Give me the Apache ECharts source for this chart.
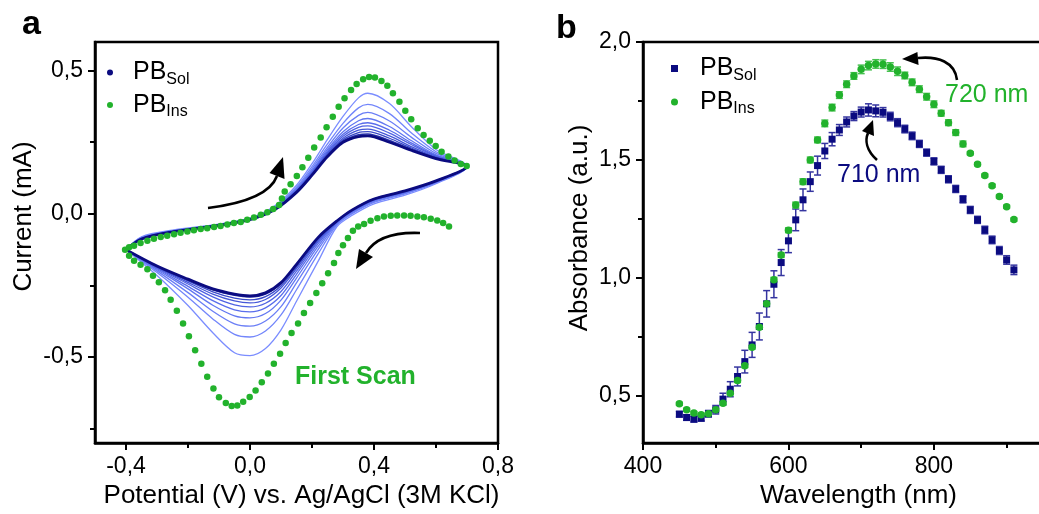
<!DOCTYPE html>
<html>
<head>
<meta charset="utf-8">
<script src="https://cdn.jsdelivr.net/npm/echarts@6/dist/echarts.min.js"></script>
<style>
html, body { margin: 0; padding: 0; background: #fff; }
#main { width: 1039px; height: 514px; }
</style>
</head>
<body>
<div id="main"></div>
<script>
// ---- panel a : cyclic voltammograms (potential in V, current in mA)
const potUp = [-0.4, -0.35, -0.25, -0.1, 0.0, 0.08, 0.15, 0.2, 0.25, 0.3, 0.35, 0.38, 0.45, 0.52, 0.6, 0.7];
const potDown = [0.7, 0.6, 0.5, 0.4, 0.33, 0.28, 0.22, 0.15, 0.1, 0.05, 0.0, -0.05, -0.12, -0.2, -0.3, -0.4];

// anodic branch of each cycle, outer (early) cycle first, last cycle (navy) at the end
const cvUp = [
  [-0.125, -0.080, -0.057, -0.036, -0.015, 0.028, 0.100, 0.175, 0.260, 0.340, 0.405, 0.421, 0.385, 0.305, 0.225, 0.165],
  [-0.125, -0.082, -0.059, -0.037, -0.016, 0.025, 0.093, 0.165, 0.244, 0.316, 0.370, 0.382, 0.350, 0.283, 0.217, 0.165],
  [-0.125, -0.084, -0.060, -0.038, -0.017, 0.022, 0.089, 0.157, 0.233, 0.300, 0.344, 0.354, 0.324, 0.268, 0.211, 0.165],
  [-0.125, -0.085, -0.061, -0.038, -0.018, 0.020, 0.085, 0.151, 0.225, 0.287, 0.325, 0.333, 0.305, 0.256, 0.206, 0.165],
  [-0.125, -0.086, -0.061, -0.039, -0.018, 0.019, 0.083, 0.147, 0.219, 0.278, 0.312, 0.318, 0.292, 0.248, 0.203, 0.165],
  [-0.125, -0.086, -0.062, -0.039, -0.019, 0.018, 0.081, 0.144, 0.214, 0.271, 0.302, 0.307, 0.282, 0.242, 0.201, 0.165],
  [-0.125, -0.087, -0.062, -0.039, -0.019, 0.017, 0.079, 0.141, 0.210, 0.264, 0.292, 0.296, 0.272, 0.235, 0.198, 0.165],
  [-0.125, -0.087, -0.062, -0.040, -0.019, 0.016, 0.078, 0.139, 0.206, 0.259, 0.284, 0.287, 0.264, 0.230, 0.196, 0.165],
  [-0.125, -0.088, -0.063, -0.040, -0.020, 0.016, 0.076, 0.137, 0.203, 0.254, 0.276, 0.279, 0.256, 0.226, 0.195, 0.165],
  [-0.125, -0.088, -0.063, -0.040, -0.020, 0.015, 0.075, 0.135, 0.200, 0.250, 0.270, 0.272, 0.250, 0.222, 0.193, 0.165]
];
// cathodic branch of each cycle
const cvDown = [
  [0.165, 0.105, 0.065, 0.035, -0.005, -0.045, -0.165, -0.305, -0.405, -0.470, -0.495, -0.485, -0.415, -0.320, -0.215, -0.125],
  [0.165, 0.108, 0.070, 0.040, 0.001, -0.039, -0.139, -0.265, -0.353, -0.409, -0.430, -0.421, -0.367, -0.291, -0.205, -0.125],
  [0.165, 0.110, 0.072, 0.043, 0.004, -0.035, -0.124, -0.241, -0.324, -0.374, -0.392, -0.384, -0.340, -0.275, -0.199, -0.125],
  [0.165, 0.111, 0.074, 0.046, 0.007, -0.032, -0.113, -0.224, -0.301, -0.348, -0.363, -0.356, -0.319, -0.262, -0.194, -0.125],
  [0.165, 0.112, 0.076, 0.047, 0.009, -0.030, -0.104, -0.211, -0.285, -0.328, -0.342, -0.335, -0.303, -0.253, -0.191, -0.125],
  [0.165, 0.113, 0.077, 0.049, 0.010, -0.029, -0.097, -0.200, -0.271, -0.312, -0.325, -0.318, -0.290, -0.245, -0.188, -0.125],
  [0.165, 0.114, 0.078, 0.050, 0.012, -0.027, -0.092, -0.191, -0.259, -0.299, -0.311, -0.304, -0.280, -0.239, -0.186, -0.125],
  [0.165, 0.114, 0.079, 0.051, 0.013, -0.026, -0.087, -0.185, -0.251, -0.289, -0.300, -0.294, -0.272, -0.234, -0.184, -0.125],
  [0.165, 0.115, 0.080, 0.052, 0.014, -0.025, -0.084, -0.178, -0.243, -0.280, -0.290, -0.284, -0.265, -0.230, -0.183, -0.125],
  [0.165, 0.115, 0.080, 0.052, 0.014, -0.025, -0.082, -0.176, -0.240, -0.276, -0.286, -0.280, -0.262, -0.228, -0.182, -0.125]
];
const cvColors = ['#7b8dff', '#7386fb', '#6a7ef6', '#6277f1', '#596deb', '#5063e3', '#4557d8', '#3848c8', '#2631ad', '#0b0b80'];

// first scan of the insoluble film (dots)
const firstScan = [
  [-0.403, -0.125], [-0.390, -0.117], [-0.374, -0.111], [-0.353, -0.102], [-0.331, -0.094], [-0.310, -0.087],
  [-0.288, -0.081], [-0.267, -0.076], [-0.245, -0.071], [-0.224, -0.066], [-0.202, -0.062], [-0.181, -0.057],
  [-0.159, -0.053], [-0.138, -0.050], [-0.116, -0.046], [-0.095, -0.042], [-0.073, -0.037], [-0.052, -0.032],
  [-0.030, -0.028], [-0.009, -0.021], [0.013, -0.013], [0.035, -0.003], [0.056, 0.006], [0.075, 0.017],
  [0.094, 0.031], [0.103, 0.054], [0.112, 0.078], [0.131, 0.103], [0.151, 0.132], [0.169, 0.163],
  [0.188, 0.196], [0.207, 0.232], [0.228, 0.267], [0.247, 0.302], [0.267, 0.339], [0.286, 0.374],
  [0.305, 0.404], [0.326, 0.432], [0.344, 0.453], [0.365, 0.470], [0.384, 0.478], [0.403, 0.476],
  [0.424, 0.464], [0.443, 0.447], [0.461, 0.421], [0.482, 0.391], [0.501, 0.360], [0.520, 0.330],
  [0.541, 0.299], [0.560, 0.275], [0.580, 0.255], [0.599, 0.237], [0.618, 0.217], [0.640, 0.200],
  [0.660, 0.186], [0.680, 0.174], [0.699, 0.167],
  [0.642, -0.044], [0.623, -0.032], [0.604, -0.023], [0.583, -0.017], [0.561, -0.012], [0.540, -0.009],
  [0.518, -0.007], [0.497, -0.006], [0.475, -0.006], [0.454, -0.007], [0.432, -0.009], [0.411, -0.015],
  [0.389, -0.024], [0.368, -0.035], [0.349, -0.044], [0.332, -0.059], [0.316, -0.084], [0.300, -0.110],
  [0.285, -0.137], [0.271, -0.172], [0.252, -0.207], [0.233, -0.242], [0.214, -0.276], [0.194, -0.311],
  [0.174, -0.346], [0.155, -0.383], [0.134, -0.416], [0.115, -0.451], [0.097, -0.488], [0.077, -0.523],
  [0.058, -0.557], [0.038, -0.588], [0.018, -0.617], [-0.001, -0.639], [-0.022, -0.656], [-0.041, -0.669],
  [-0.059, -0.671], [-0.078, -0.660], [-0.100, -0.640], [-0.118, -0.610], [-0.138, -0.569], [-0.157, -0.523],
  [-0.177, -0.476], [-0.197, -0.427], [-0.216, -0.383], [-0.236, -0.338], [-0.256, -0.300], [-0.274, -0.267],
  [-0.294, -0.239], [-0.313, -0.216], [-0.331, -0.193], [-0.353, -0.178], [-0.374, -0.164], [-0.390, -0.146]
];

// ---- panel b : absorbance spectra
const wavelengths = [450, 460, 470, 480, 490, 500, 510, 520, 530, 540, 550, 560, 570, 580, 590, 600,
  610, 620, 630, 640, 650, 660, 670, 680, 690, 700, 710, 720, 730, 740, 750, 760, 770, 780, 790, 800,
  810, 820, 830, 840, 850, 860, 870, 880, 890, 900, 910];
const absSol = [0.422, 0.408, 0.401, 0.405, 0.424, 0.441, 0.486, 0.528, 0.582, 0.645, 0.716, 0.794, 0.890,
  0.973, 1.065, 1.157, 1.246, 1.331, 1.408, 1.476, 1.538, 1.588, 1.627, 1.661, 1.686, 1.703, 1.712, 1.708,
  1.702, 1.684, 1.658, 1.631, 1.602, 1.568, 1.531, 1.494, 1.458, 1.418, 1.377, 1.333, 1.288, 1.246, 1.203,
  1.161, 1.116, 1.076, 1.034];
const errSol = [0.012, 0.012, 0.012, 0.012, 0.014, 0.018, 0.025, 0.032, 0.040, 0.048, 0.053, 0.057, 0.056,
  0.057, 0.055, 0.050, 0.046, 0.046, 0.041, 0.040, 0.032, 0.028, 0.023, 0.021, 0.019, 0.021, 0.026, 0.025,
  0.020, 0.018, 0.017, 0.016, 0.016, 0.015, 0.015, 0.015, 0.015, 0.015, 0.015, 0.015, 0.015, 0.015, 0.016,
  0.016, 0.017, 0.018, 0.020];
const absIns = [0.466, 0.441, 0.427, 0.420, 0.424, 0.441, 0.469, 0.511, 0.565, 0.628, 0.706, 0.791, 0.890,
  0.992, 1.097, 1.202, 1.309, 1.408, 1.500, 1.585, 1.655, 1.722, 1.775, 1.821, 1.856, 1.884, 1.900, 1.907,
  1.906, 1.894, 1.876, 1.858, 1.829, 1.800, 1.768, 1.736, 1.698, 1.658, 1.616, 1.568, 1.528, 1.482, 1.434,
  1.391, 1.345, 1.302, 1.247];
const errIns = [0.006, 0.006, 0.006, 0.006, 0.006, 0.006, 0.006, 0.006, 0.008, 0.008, 0.008, 0.008, 0.010,
  0.010, 0.010, 0.010, 0.012, 0.012, 0.012, 0.012, 0.014, 0.014, 0.014, 0.014, 0.014, 0.018, 0.018, 0.018,
  0.018, 0.018, 0.018, 0.014, 0.014, 0.014, 0.014, 0.014, 0.012, 0.012, 0.012, 0.012, 0.006, 0.006, 0.006,
  0.006, 0.006, 0.006, 0.006];

// tick labels
const cvXTicks = [-0.4, 0.0, 0.4, 0.8];
const cvXMinor = [-0.2, 0.2, 0.6];
const cvYTicks = [-0.5, 0.0, 0.5];
const cvYMinor = [-0.75, -0.25, 0.25];
const uvXTicks = [400, 600, 800];
const uvXMinor = [500, 700, 900];
const uvYTicks = [0.5, 1.0, 1.5, 2.0];
const uvYMinor = [0.75, 1.25, 1.75];

const NAVY = '#0b0b80';
const GREEN = '#22b22c';
const FONT = '"Liberation Sans", Arial, sans-serif';

const comma = v => v.toFixed(1).replace('.', ',');
const labelStyle = { color: '#000', fontSize: 23, fontFamily: FONT };
const nameStyle = { color: '#000', fontSize: 26, fontFamily: FONT };

function mainAxis(gridIndex, min, max, ticks, fmt, extra) {
  return Object.assign({
    type: 'value', gridIndex: gridIndex, min: min, max: max,
    axisLine: { show: true, onZero: false, lineStyle: { color: '#000', width: 2.5 } },
    axisTick: { show: true, inside: false, length: 7, customValues: ticks, lineStyle: { color: '#000', width: 2 } },
    axisLabel: Object.assign({ customValues: ticks, formatter: fmt, margin: 12 }, labelStyle),
    splitLine: { show: false }
  }, extra);
}
function minorAxis(gridIndex, min, max, ticks, pos) {
  return {
    type: 'value', gridIndex: gridIndex, min: min, max: max, position: pos,
    axisLine: { show: false, onZero: false },
    axisTick: { show: true, inside: false, length: 5, customValues: ticks, lineStyle: { color: '#000', width: 2 } },
    axisLabel: { show: false },
    splitLine: { show: false }
  };
}

function legendLabel(name) {
  return '{p|PB}{s|' + (name.slice(1)) + '}';
}
function legendRich(gap) {
  return {
    p: { fontSize: 25, fontFamily: FONT, color: '#000', lineHeight: 30, padding: [0, 0, 0, gap] },
    s: { fontSize: 16, fontFamily: FONT, color: '#000', lineHeight: 10, verticalAlign: 'bottom' }
  };
}

function errRender(color) {
  return function (params, api) {
    const x = api.value(0), y = api.value(1), e = api.value(2);
    const lo = api.coord([x, y - e]);
    const hi = api.coord([x, y + e]);
    const w = 3.5;
    const st = { stroke: color, lineWidth: 1.5 };
    return {
      type: 'group',
      children: [
        { type: 'line', shape: { x1: lo[0], y1: lo[1], x2: hi[0], y2: hi[1] }, style: st },
        { type: 'line', shape: { x1: lo[0] - w, y1: lo[1], x2: lo[0] + w, y2: lo[1] }, style: st },
        { type: 'line', shape: { x1: hi[0] - w, y1: hi[1], x2: hi[0] + w, y2: hi[1] }, style: st }
      ]
    };
  };
}

const last = cvUp.length - 1;
const cvSeries = cvUp.map((up, k) => ({
  type: 'line',
  name: k === last ? 'aSol' : 'cycle ' + (k + 1),
  xAxisIndex: 0, yAxisIndex: 0,
  data: potUp.map((e, i) => [e, up[i]]).concat(potDown.map((e, i) => [e, cvDown[k][i]])),
  showSymbol: false, symbol: 'circle', smooth: 0.3, silent: true,
  lineStyle: { color: cvColors[k], width: k === last ? 2.8 : (k === last - 1 ? 1.6 : 1.3) },
  itemStyle: { color: cvColors[k] },
  z: 2 + k
}));

const arrowStyle = { stroke: '#000', lineWidth: 2.6, fill: null };
function arrow(x1, y1, c1x, c1y, c2x, c2y, x2, y2, tip, b1, b2) {
  return [
    { type: 'bezierCurve', shape: { x1: x1, y1: y1, cpx1: c1x, cpy1: c1y, cpx2: c2x, cpy2: c2y, x2: x2, y2: y2 }, style: arrowStyle, z: 100 },
    { type: 'polygon', shape: { points: [tip, b1, b2] }, style: { fill: '#000' }, z: 100 }
  ];
}

const option = {
  animation: false,
  backgroundColor: '#fff',
  grid: [
    { left: 95, top: 42, width: 403, height: 401, show: true, borderColor: '#000', borderWidth: 2.5, outerBoundsMode: 'none' },
    { left: 643, top: 42, width: 400, height: 401, show: true, borderColor: '#000', borderWidth: 2.5, outerBoundsMode: 'none' }
  ],
  xAxis: [
    mainAxis(0, -0.5, 0.8, cvXTicks, comma, {
      position: 'bottom', name: 'Potential (V) vs. Ag/AgCl (3M KCl)', nameLocation: 'middle', nameGap: 40,
      nameTextStyle: Object.assign({ padding: [0, 0, 0, 10] }, nameStyle)
    }),
    minorAxis(0, -0.5, 0.8, cvXMinor, 'bottom'),
    mainAxis(1, 400, 950, uvXTicks, v => String(v), {
      position: 'bottom', name: 'Wavelength (nm)', nameLocation: 'middle', nameGap: 40,
      nameTextStyle: Object.assign({ padding: [0, 0, 0, 31] }, nameStyle)
    }),
    minorAxis(1, 400, 950, uvXMinor, 'bottom')
  ],
  yAxis: [
    mainAxis(0, -0.8, 0.6, cvYTicks, comma, {
      position: 'left', name: 'Current (mA)', nameLocation: 'middle', nameGap: 58, nameRotate: 90,
      nameTextStyle: Object.assign({ padding: [0, 0, 0, 52] }, nameStyle)
    }),
    minorAxis(0, -0.8, 0.6, cvYMinor, 'left'),
    mainAxis(1, 0.3, 2.0, uvYTicks, comma, {
      position: 'left', name: 'Absorbance (a.u.)', nameLocation: 'middle', nameGap: 50, nameRotate: 90,
      nameTextStyle: Object.assign({ padding: [0, 0, 0, 29] }, nameStyle)
    }),
    minorAxis(1, 0.3, 2.0, uvYMinor, 'left')
  ],
  legend: [
    {
      left: 107, top: 60, orient: 'vertical', padding: 0, itemWidth: 36, itemHeight: 6, itemGap: 5,
      selectedMode: false, formatter: legendLabel, textStyle: { rich: legendRich(0) },
      data: [{ name: 'aSol', icon: 'circle' }, { name: 'aIns', icon: 'circle' }]
    },
    {
      left: 671, top: 56, orient: 'vertical', padding: 0, itemWidth: 7, itemHeight: 7, itemGap: 6,
      selectedMode: false, formatter: legendLabel, textStyle: { rich: legendRich(17) },
      data: [{ name: 'bSol', icon: 'rect' }, { name: 'bIns', icon: 'circle' }]
    }
  ],
  series: cvSeries.concat([
    {
      type: 'scatter', name: 'aIns', xAxisIndex: 0, yAxisIndex: 0, data: firstScan,
      symbol: 'circle', symbolSize: 6.5, itemStyle: { color: GREEN, opacity: 1 }, silent: true, z: 20
    },
    {
      type: 'custom', name: 'err Sol', xAxisIndex: 2, yAxisIndex: 2,
      data: wavelengths.map((w, i) => [w, absSol[i], errSol[i]]),
      encode: { x: 0, y: 1 }, renderItem: errRender('#3535a0'), silent: true, z: 5
    },
    {
      type: 'custom', name: 'err Ins', xAxisIndex: 2, yAxisIndex: 2,
      data: wavelengths.map((w, i) => [w, absIns[i], errIns[i]]),
      encode: { x: 0, y: 1 }, renderItem: errRender('#45c04e'), silent: true, z: 5
    },
    {
      type: 'scatter', name: 'bSol', xAxisIndex: 2, yAxisIndex: 2,
      data: wavelengths.map((w, i) => [w, absSol[i]]),
      symbol: 'rect', symbolSize: 7, itemStyle: { color: NAVY, opacity: 1 }, silent: true, z: 10
    },
    {
      type: 'scatter', name: 'bIns', xAxisIndex: 2, yAxisIndex: 2,
      data: wavelengths.map((w, i) => [w, absIns[i]]),
      symbol: 'circle', symbolSize: 7.5, itemStyle: { color: GREEN, opacity: 1 }, silent: true, z: 11
    }
  ]),
  graphic: [
    { type: 'text', style: { text: 'a', x: 22, y: 25, font: 'bold 34px ' + FONT, fill: '#000', verticalAlign: 'middle' } },
    { type: 'text', style: { text: 'b', x: 556, y: 29, font: 'bold 34px ' + FONT, fill: '#000', verticalAlign: 'middle' } },
    { type: 'text', style: { text: 'First Scan', x: 295, y: 377, font: 'bold 25px ' + FONT, fill: GREEN, verticalAlign: 'middle' } },
    { type: 'text', style: { text: '720 nm', x: 945, y: 95, font: '25px ' + FONT, fill: GREEN, verticalAlign: 'middle' } },
    { type: 'text', style: { text: '710 nm', x: 837, y: 175, font: '25px ' + FONT, fill: NAVY, verticalAlign: 'middle' } }
  ].concat(
    arrow(208, 208, 240, 204, 270, 195, 277, 176, [283, 157], [284.5, 179], [269.5, 173]),
    arrow(420, 233, 395, 232, 375, 238, 366, 253, [356, 269], [373, 257], [359, 249]),
    arrow(957, 80, 955, 62, 938, 56, 918, 58, [902, 59], [918.6, 65], [917.4, 52]),
    arrow(877, 160, 866, 150, 865, 140, 868, 133, [873, 120], [874, 136], [862, 131])
  )
};

const myChart = echarts.init(document.getElementById('main'));
myChart.setOption(option);
</script>
</body>
</html>
